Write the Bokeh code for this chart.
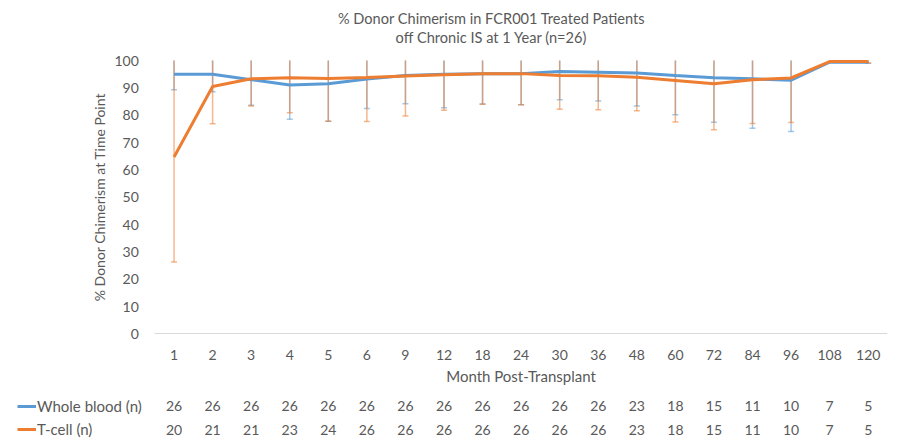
from bokeh.plotting import figure
from bokeh.models import (ColumnDataSource, FactorRange, Range1d, Whisker, TeeHead,
                          Legend, LegendItem, LinearAxis, CategoricalAxis,
                          FixedTicker, Grid)
from bokeh.core.properties import value
from bokeh.embed import file_html
from bokeh.resources import INLINE

months = ["1", "2", "3", "4", "5", "6", "9", "12", "18", "24", "30", "36", "48",
          "60", "72", "84", "96", "108", "120"]
wb_mean = [95.0, 95.0, 93.0, 91.0, 91.5, 93.2, 94.5, 95.0, 95.2, 95.2, 96.0, 95.7, 95.4,
           94.5, 93.7, 93.3, 92.8, 99.4, 99.4]
tc_mean = [64.7, 90.5, 93.3, 93.7, 93.4, 93.8, 94.3, 94.8, 95.2, 95.2, 94.5, 94.4, 93.9,
           92.7, 91.5, 93.0, 93.6, 99.6, 99.6]
wb_lower = [89.3, 88.6, 83.6, 78.5, 77.8, 82.4, 84.2, 82.7, 84.1, 83.8, 85.6, 85.2, 83.4,
            80.2, 77.4, 75.2, 74.0, None, 99.0]
tc_lower = [26.3, 76.9, 83.4, 80.9, 77.8, 77.7, 79.7, 81.8, 84.0, 83.8, 82.2, 82.0, 81.6,
            77.5, 74.7, 77.0, 77.3, None, 99.1]
err_upper = [100, 100, 100, 100, 100, 100, 100, 100, 100, 100, 100, 100, 100,
             100, 100, 100, 100, None, 100]
wb_n = [26, 26, 26, 26, 26, 26, 26, 26, 26, 26, 26, 26, 23, 18, 15, 11, 10, 7, 5]
tc_n = [20, 21, 21, 23, 24, 26, 26, 26, 26, 26, 26, 26, 23, 18, 15, 11, 10, 7, 5]
y_ticks = [0, 10, 20, 30, 40, 50, 60, 70, 80, 90, 100]

title1 = "% Donor Chimerism in FCR001 Treated Patients"
title2 = "off Chronic IS at 1 Year (n=26)"
ylabel = "% Donor Chimerism at Time Point"
xlabel = "Month Post-Transplant"
row_labels = ["Whole blood (n)", "T-cell (n)"]

BLUE = "#5B9BD5"
ORANGE = "#ED7D31"
TXT = "#595959"
FONT = "Lato"

# empty spacer factors give room, inside the frame, for the table's row labels
pads = ["pad1", "pad2", "pad3", "pad4"]
ROW1_Y, ROW2_Y = -26.4, -35.0
TITLE1_Y, TITLE2_Y = 115.4, 108.4

p = figure(width=894, height=446, output_backend="svg", toolbar_location=None,
           title=None,
           x_range=FactorRange(factors=pads + months, range_padding=0),
           y_range=Range1d(-41.2, 121.95),
           x_axis_location=None, y_axis_location=None,
           min_border_left=0, min_border_right=7, min_border_top=0, min_border_bottom=0)
p.outline_line_color = None
for g in p.select(type=Grid):
    g.visible = False

n0, n1 = len(pads), len(pads) + len(months)

yax = LinearAxis(fixed_location=n0, bounds=(0, 100), ticker=FixedTicker(ticks=y_ticks))
yax.axis_line_color = None
yax.major_tick_line_color = None
yax.minor_tick_line_color = None
yax.major_label_standoff = 10
yax.axis_label = ylabel
yax.axis_label_standoff = 3
yax.axis_label_text_font = FONT
yax.axis_label_text_font_style = "normal"
yax.axis_label_text_font_size = "14px"
yax.axis_label_text_color = TXT
yax.major_label_text_font = FONT
yax.major_label_text_font_size = "14px"
yax.major_label_text_color = TXT
p.add_layout(yax, "left")

xax = CategoricalAxis(fixed_location=0, bounds=(n0, n1))
xax.major_label_overrides = {k: "" for k in pads}
xax.axis_line_color = "#D9D9D9"
xax.axis_line_width = 1
xax.major_tick_line_color = None
xax.minor_tick_line_color = None
xax.major_label_standoff = 10
xax.axis_label = xlabel
xax.axis_label_standoff = 4
xax.axis_label_text_font = FONT
xax.axis_label_text_font_style = "normal"
xax.axis_label_text_font_size = "15px"
xax.axis_label_text_color = TXT
xax.major_label_text_font = FONT
xax.major_label_text_font_size = "14px"
xax.major_label_text_color = TXT
p.add_layout(xax, "below")


def err_source(lower):
    xs, lo, up = [], [], []
    for m, l, u in zip(months, lower, err_upper):
        if l is not None and u is not None:
            xs.append(m); lo.append(l); up.append(u)
    return ColumnDataSource(dict(x=xs, lower=lo, upper=up))


for lower, col, alpha in [(wb_lower, BLUE, 0.55), (tc_lower, ORANGE, 0.55)]:
    w = Whisker(source=err_source(lower), base="x", lower="lower", upper="upper",
                dimension="height", line_color=col, line_alpha=alpha, line_width=1.5,
                lower_head=TeeHead(size=6, line_color=col, line_alpha=alpha, line_width=1.5),
                upper_head=None, level="underlay")
    p.add_layout(w)

src = ColumnDataSource(dict(x=months, wb=wb_mean, tc=tc_mean))
r_wb = p.line("x", "wb", source=src, line_color=BLUE, line_width=3)
r_tc = p.line("x", "tc", source=src, line_color=ORANGE, line_width=3)

# titles
ttl = ColumnDataSource(dict(x=["18", "18"], y=[TITLE1_Y, TITLE2_Y], t=[title1, title2]))
p.text("x", "y", text="t", source=ttl, x_offset=9, text_align="center",
       text_baseline="middle", text_font=value(FONT), text_font_size="14.6px",
       text_color=TXT)

# table of counts
tab = ColumnDataSource(dict(x=months * 2,
                            y=[ROW1_Y] * len(months) + [ROW2_Y] * len(months),
                            t=[str(v) for v in wb_n] + [str(v) for v in tc_n]))
p.text("x", "y", text="t", source=tab, text_align="center", text_baseline="middle",
       text_font=value(FONT), text_font_size="14px", text_color=TXT)

legend = Legend(items=[LegendItem(label=row_labels[0], renderers=[r_wb]),
                       LegendItem(label=row_labels[1], renderers=[r_tc])],
                location=(17, 7), orientation="vertical",
                glyph_width=19, glyph_height=20, label_height=20, label_standoff=1,
                spacing=3, padding=0, margin=0,
                border_line_alpha=0, background_fill_alpha=0,
                label_text_font=FONT, label_text_font_size="15px", label_text_color=TXT)
p.add_layout(legend)

open("out.html", "w").write(file_html(p, INLINE))
